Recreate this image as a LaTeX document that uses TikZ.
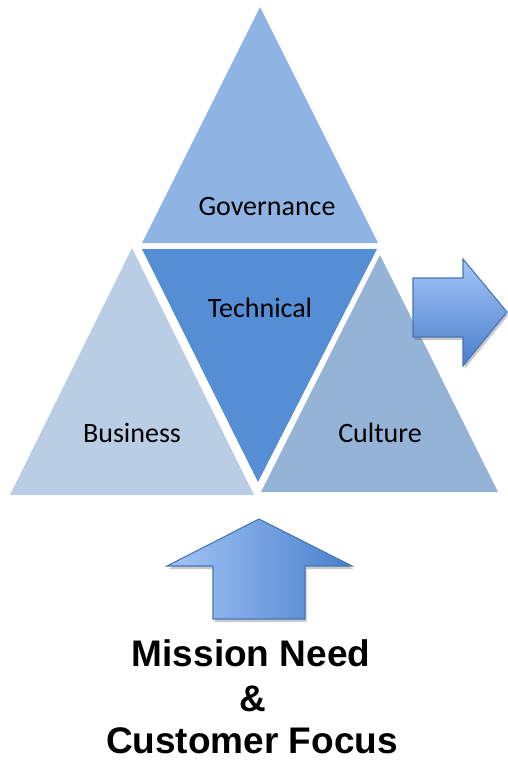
\documentclass[tikz,border=0pt]{standalone}
\usepackage{fontspec}
\usetikzlibrary{shadows}
\newfontfamily\calibfont{Carlito}
\newfontfamily\arialfont{Liberation Sans}
\definecolor{govc}{HTML}{8EB4E3}
\definecolor{techc}{HTML}{558ED5}
\definecolor{busc}{HTML}{B9CDE5}
\definecolor{culc}{HTML}{95B3D7}
\definecolor{arlight}{HTML}{A3C5F7}
\definecolor{ardark}{HTML}{4A7FCB}
\definecolor{arline}{HTML}{4776B5}
\tikzset{
  lbl/.style={font=\calibfont\fontsize{28}{32}\selectfont, anchor=base, inner sep=0pt},
  big/.style={font=\arialfont\bfseries\fontsize{37}{42}\selectfont, anchor=base, inner sep=0pt},
  arr/.style={draw=arline, line width=1.1pt, line join=miter,
    drop shadow={shadow xshift=1.5pt, shadow yshift=-3pt, opacity=0.3, fill=black!70}},
}
\begin{document}
\begin{tikzpicture}[x=1pt,y=-1pt]
\useasboundingbox (0,0) rectangle (508,760);
% triangles
\fill[govc] (260,7) -- (378,243) -- (142,243) -- cycle;
\fill[techc] (142,249) -- (377,249) -- (258,482) -- cycle;
\fill[busc] (132,248) -- (254,495) -- (10,495) -- cycle;
\fill[culc] (380,255) -- (498,492) -- (261,492) -- cycle;
% right arrow
\path[arr, top color=arlight, bottom color=ardark]
  (413,278) -- (463,278) -- (463,259) -- (507,312) -- (463,366) -- (463,337) -- (413,337) -- cycle;
% up arrow
\path[arr, left color=arlight, right color=ardark]
  (259,519) -- (352,566) -- (305,566) -- (305,619) -- (213,619) -- (213,566) -- (167,566) -- cycle;
% labels
\node[lbl] (gov) at (267,215) {Governance};
\node[lbl] (tech) at (260,317) {Technical};
\node[lbl] (bus) at (132,442) {Business};
\node[lbl] (cul) at (380,442) {Culture};
\node[big] (m1) at (251,666) {Mission Need};
\node[big] (m2) at (253,711) {\&};
\node[big] (m3) at (252,753) {Customer Focus};
\end{tikzpicture}
\end{document}
